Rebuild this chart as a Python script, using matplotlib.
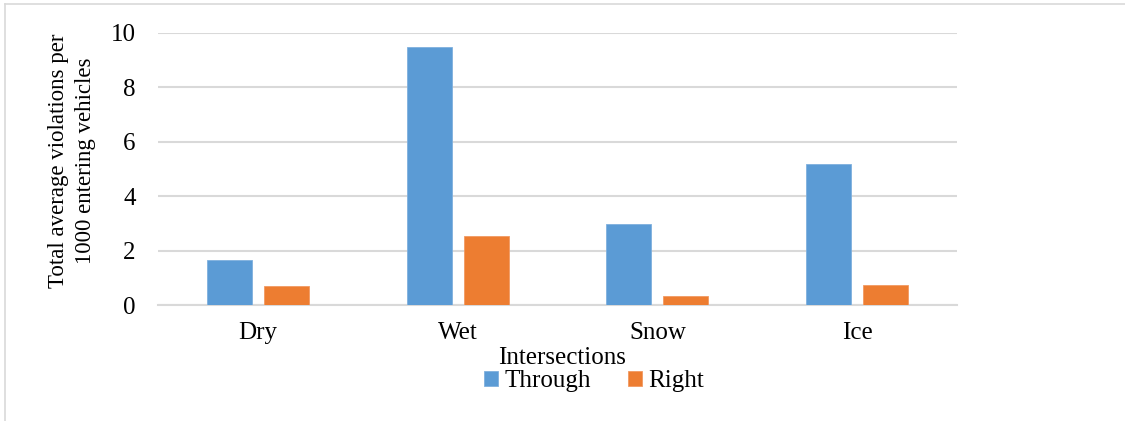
import numpy as np
import matplotlib.pyplot as plt
from matplotlib.lines import Line2D

plt.rcParams['font.family'] = ['Liberation Serif', 'DejaVu Serif']

conditions = ['Dry', 'Wet', 'Snow', 'Ice']
through = [1.66, 9.50, 2.99, 5.20]
right = [0.70, 2.55, 0.33, 0.75]

blue = '#5b9bd5'
orange = '#ed7d31'
grid_grey = '#d9d9d9'

fig = plt.figure(figsize=(11.25, 4.21), dpi=100)
ax = fig.add_axes([158/1125, 1-305/421, 799/1125, 272/421])

x = np.arange(len(conditions))
w = 0.225
ax.bar(x - 0.1425, through, w, color=blue, edgecolor='#7fb0de', linewidth=0.6,
       label='Through', zorder=3)
ax.bar(x + 0.1425, right, w, color=orange, edgecolor='#f29a62', linewidth=0.6,
       label='Right', zorder=3)

ax.set_xlim(-0.5, 3.5)
ax.set_ylim(0, 10)
ax.set_yticks([0, 2, 4, 6, 8, 10])
ax.set_xticks(x)
ax.set_xticklabels(conditions)
ax.grid(axis='y', color=grid_grey, linewidth=1.5, zorder=0)
for s in ['top', 'right', 'left']:
    ax.spines[s].set_visible(False)
ax.spines['bottom'].set_color(grid_grey)
ax.spines['bottom'].set_linewidth(1.5)
ax.tick_params(axis='both', length=0, labelsize=18, colors='black')
ax.tick_params(axis='y', pad=16)
ax.tick_params(axis='x', pad=12)

# y title as a two-line rotated block
fig.text(72/1125, 1-161/421, 'Total average violations per\n1000 entering vehicles',
         rotation=90, ha='center', va='center', fontsize=16.5, linespacing=1.4,
         multialignment='center')
fig.text(562/1125, 1-358/421, 'Intersections', ha='center', va='center', fontsize=18)

ax.legend(loc='center', bbox_to_anchor=(594/1125, 1-381/421),
          bbox_transform=fig.transFigure, ncol=2, frameon=False, fontsize=18,
          handlelength=0.55, handleheight=0.55, handletextpad=0.25, columnspacing=1.5,
          borderpad=0)

# thin frame along the top and left edges
fig.add_artist(Line2D([5/1125, 1], [1-4/421, 1-4/421], color=grid_grey, linewidth=1.2,
                      transform=fig.transFigure))
fig.add_artist(Line2D([5/1125, 5/1125], [0, 1-4/421], color=grid_grey, linewidth=1.2,
                      transform=fig.transFigure))

fig.savefig('out.png', dpi=100)
